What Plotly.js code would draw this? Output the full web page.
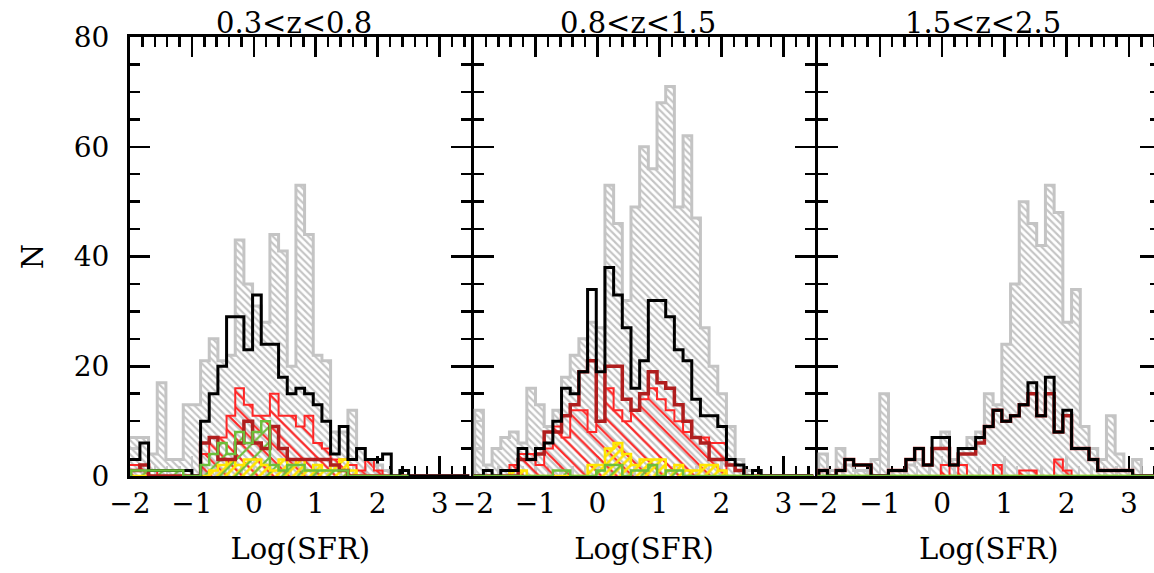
<!DOCTYPE html>
<html><head><meta charset="utf-8">
<script src="https://cdn.plot.ly/plotly-3.0.1.min.js"></script>
<style>html,body{margin:0;padding:0;overflow:hidden;background:#fff}</style>
</head><body><div id="plot"></div>
<script>
// bin edges of Log(SFR)
const edges = [-2.12,-1.98,-1.84,-1.70,-1.56,-1.42,-1.28,-1.14,-1.00,-0.86,-0.72,-0.58,-0.44,-0.30,-0.16,-0.02,0.12,0.26,0.40,0.54,0.68,0.82,0.96,1.10,1.24,1.38,1.52,1.66,1.80,1.94,2.08,2.22,2.36,2.50,2.64,2.78,2.92,3.06,3.20,3.34,3.48];
const panelTitles = ["0.3<z<0.8","0.8<z<1.5","1.5<z<2.5"];
const xTickVals = [-2,-1,0,1,2,3];
const yTickVals = [0,20,40,60,80];

// panel 1 : 0.3<z<0.8   (null = outside the histogram's range)
const gray1  = [7,7,7,4,17,3,3,13,13,21,25,21,22,43,35,31,28,44,41,20,53,44,22,21,8,8,12,5,3,2,1,0,0,0,0,0,0,0,0,0];
const black1 = [3,3,6,1,1,1,1,1,0,10,15,20,29,29,23,33,24,24,18,15,16,15,13,10,4,9,3,5,3,3,4,0,1,0,0,0,0,0,0,0];
const dred1  = [1,1,2,0,0,0,0,0,0,6,7,3,3,6,10,6,5,9,5,3,3,3,3,3,2,1,0,0,0,0,0,0,0,0,0,0,0,0,0,0];
const red1   = [2,2,2,1,0,0,0,0,0,4,7,7,11,16,13,11,11,15,11,11,9,11,6,5,3,3,2,1,3,1,0,0,0,null,null,null,null,null,null,null];
const yel1   = [0,0,0,0,0,0,0,0,0,0,1,2,3,2,3,3,2,1,3,2,3,1,2,1,2,3,1,0,0,0,0,0,null,null,null,null,null,null,null,null];
const grn1   = [0,1,1,1,1,1,1,0,0,2,4,6,4,8,6,8,10,2,1,2,2,1,1,1,1,1,0,0,0,0,0,0,0,null,null,null,null,null,null,null];

// panel 2 : 0.8<z<1.5
const gray2  = [0,12,2,5,7,8,6,16,13,9,12,18,22,25,28,27,53,46,32,49,60,56,68,71,49,62,47,27,20,15,9,3,1,0,0,0,0,0,0,0];
const black2 = [0,0,1,0,1,1,5,3,5,6,10,16,15,19,34,19,38,33,27,16,21,32,32,29,23,21,14,11,11,9,3,2,0,1,0,0,0,0,0,0];
const dred2  = [0,0,0,0,0,0,3,3,4,8,8,11,13,19,21,10,20,20,14,12,15,19,17,16,13,10,7,6,3,3,2,1,0,0,0,0,0,0,0,0];
const red2   = [0,0,0,0,0,2,4,4,2,5,9,7,12,12,8,10,16,12,10,12,14,16,14,12,10,8,7,7,6,6,0,0,0,0,0,0,0,0,0,0];
const yel2   = [0,0,0,0,0,1,1,0,0,0,0,0,0,0,2,2,5,6,4,2,3,3,3,1,2,1,1,2,2,1,0,0,0,0,0,0,0,0,0,0];
const grn2   = [0,0,0,0,0,0,0,0,0,0,1,1,0,0,0,1,2,2,0,1,1,2,0,1,1,0,0,0,0,0,0,0,0,0,0,0,0,0,0,0];

// panel 3 : 1.5<z<2.5
const gray3  = [0,4,1,5,2,1,1,3,15,1,1,2,3,2,5,8,3,5,7,8,15,13,24,35,50,46,42,53,48,28,34,9,5,3,11,4,1,3,0,0];
const black3 = [0,1,0,1,3,2,2,0,0,1,1,3,5,2,7,7,2,5,5,7,9,12,10,11,13,17,11,18,8,12,5,5,3,1,1,1,1,0,0,0];
const dred3  = [0,1,0,1,3,2,2,0,0,1,1,3,5,2,5,5,2,4,4,6,9,12,10,11,13,15,11,15,8,11,5,5,3,1,1,1,1,0,0,0];
const red3   = [0,0,0,0,0,0,0,0,0,0,0,0,0,0,0,2,0,2,0,0,0,2,0,0,1,1,0,0,3,1,0,0,0,0,0,0,0,0,0,0];
const yel3   = [0,0,0,0,0,0,0,0,0,0,0,0,0,0,0,0,0,0,0,0,0,0,0,0,0,0,0,0,0,0,0,0,0,0,0,0,0,0,0,0];
const grn3   = [0,0,0,0,0,0,0,0,0,0,0,0,0,0,0,0,0,0,0,0,0,0,0,0,0,0,0,0,0,0,0,0,0,0,0,0,0,0,0,0];

const centers = edges.slice(0,-1).map((e,i)=>(e+edges[i+1])/2);
const binW = edges[1]-edges[0];

const GRAY='#c4c4c4', BLACK='#000000', DRED='#b01e1e', RED='#ff2626', YEL='#ffe600', GRN='#6cbf3a';

function hatch(vals, xa, ya, color, shape, size, sol, bg){
  return {type:'bar', x:centers, y:vals.map(v=>v===null?0:v), width:binW, xaxis:xa, yaxis:ya,
    marker:{color:'rgba(0,0,0,0)', line:{width:0},
      pattern:{shape:shape, fgcolor:color, bgcolor:bg||'rgba(0,0,0,0)', size:size, solidity:sol, fillmode:'replace'}},
    hoverinfo:'skip', showlegend:false};
}
function step(vals, xa, ya, color, w){
  const xs=[], ys=[];
  vals.forEach((v,i)=>{ if(v!==null){ xs.push(edges[i]); ys.push(v); } });
  const last = vals.reduce((a,v,i)=>v!==null?i:a,-1);
  xs.push(edges[last+1]); ys.push(0);
  return {type:'scatter', mode:'lines', x:xs, y:ys, xaxis:xa, yaxis:ya,
    line:{shape:'hv', color:color, width:w}, hoverinfo:'skip', showlegend:false};
}

const panels = [
  [gray1,black1,dred1,red1,yel1,grn1],
  [gray2,black2,dred2,red2,yel2,grn2],
  [gray3,black3,dred3,red3,yel3,grn3]
];
const traces = [];
panels.forEach((p,i)=>{
  const xa = i===0?'x':'x'+(i+1), ya = i===0?'y':'y'+(i+1);
  const [g,b,dr,r,y,gr] = p;
  traces.push(hatch(g,xa,ya,GRAY,'\\',5,0.42,'rgba(255,255,255,0.8)'));
  traces.push(step(g,xa,ya,GRAY,3));
  traces.push(hatch(r,xa,ya,RED,'\\',11,0.2));
  traces.push(step(r,xa,ya,RED,2));
  traces.push(hatch(y,xa,ya,YEL,'/',6,0.45));
  traces.push(step(y,xa,ya,YEL,2.5));
  traces.push(step(dr,xa,ya,DRED,3.5));
  traces.push(step(b,xa,ya,BLACK,3));
  traces.push(hatch(gr,xa,ya,GRN,'/',11,0.2));
  traces.push(step(gr,xa,ya,GRN,2.5));
});

const FONT='DejaVu Serif';
const PW = 1030;
const doms = [[0,340.5/PW],[343.5/PW,684.5/PW],[687.5/PW,1]];
function xax(dom){
  return {domain:dom, range:[-2,3.5], tickmode:'array', tickvals:xTickVals, ticktext:xTickVals.map(v=>v<0?'\u2212'+(-v):String(v)),
    ticks:'inside', ticklen:20, tickwidth:2.5, tickcolor:'#000', mirror:'ticks', showline:true, linewidth:3, linecolor:'#000',
    showgrid:false, zeroline:false, layer:'below traces', tickfont:{family:FONT,size:28,color:'#000'},
    minor:{ticks:'inside', ticklen:10, tickwidth:2.5, tickcolor:'#000', dtick:0.2, tick0:0, showgrid:false},
    title:{text:'Log(SFR)', font:{family:FONT,size:29,color:'#000'}, standoff:21}};
}
function yax(anchor, labels){
  return {anchor:anchor, domain:[0,1], range:[0,80], tickvals:yTickVals, ticks:'inside', ticklen:20, tickwidth:2.5, tickcolor:'#000',
    mirror:'ticks', showline:true, linewidth:3, linecolor:'#000', showgrid:false, zeroline:false, layer:'below traces',
    showticklabels:labels, tickfont:{family:FONT,size:28,color:'#000'}, ticklabelstandoff:12,
    minor:{ticks:'inside', ticklen:10, tickwidth:2.5, tickcolor:'#000', dtick:5, tick0:0, showgrid:false},
    title: labels?{text:'N', font:{family:FONT,size:29,color:'#000'}, standoff:22}:{text:''}};
}
const layout = {
  width:1162, height:573, margin:{l:130,r:2,t:37,b:97}, paper_bgcolor:'#fff', plot_bgcolor:'rgba(0,0,0,0)',
  barmode:'overlay', bargap:0, showlegend:false,
  xaxis:xax(doms[0]), xaxis2:xax(doms[1]), xaxis3:xax(doms[2]),
  yaxis:yax('x',true), yaxis2:yax('x2',false), yaxis3:yax('x3',false),
  annotations: panelTitles.map((t,i)=>({text:t, xref:'paper', yref:'paper', x:(doms[i][0]+doms[i][1])/2 - 0.006, y:1, yanchor:'bottom', xanchor:'center',
    showarrow:false, yshift:-5, font:{family:FONT,size:29,color:'#000'}}))
};
Plotly.newPlot('plot', traces, layout, {staticPlot:true, displayModeBar:false});
</script></body></html>
